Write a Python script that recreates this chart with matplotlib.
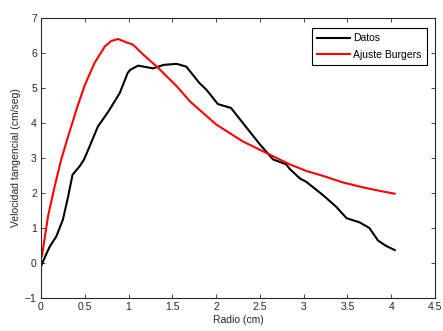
import matplotlib
matplotlib.use("Agg")
import matplotlib.pyplot as plt

# Datos medidos (radio en cm, velocidad en cm/seg)
r_datos = [0.00, 0.05, 0.10, 0.175, 0.25, 0.31, 0.36, 0.44, 0.49, 0.54, 0.65, 0.77,
           0.90, 0.99, 1.02, 1.11, 1.28, 1.40, 1.55, 1.66, 1.81, 1.89, 2.02, 2.17,
           2.35, 2.50, 2.65, 2.80, 2.84, 2.96, 3.03, 3.22, 3.37, 3.49, 3.64, 3.75,
           3.85, 3.94, 4.04]
v_datos = [-0.10, 0.20, 0.47, 0.76, 1.24, 1.90, 2.52, 2.76, 2.95, 3.24, 3.90, 4.33,
           4.86, 5.43, 5.52, 5.64, 5.56, 5.66, 5.69, 5.61, 5.14, 4.95, 4.54, 4.43,
           3.86, 3.39, 2.96, 2.82, 2.69, 2.41, 2.32, 1.94, 1.61, 1.28, 1.16, 1.00,
           0.64, 0.49, 0.37]

# Ajuste Burgers
r_ajuste = [0.01, 0.08, 0.156, 0.23, 0.31, 0.37, 0.42, 0.50, 0.61, 0.73, 0.80, 0.88,
            0.99, 1.05, 1.17, 1.34, 1.55, 1.70, 2.00, 2.30, 2.61, 2.84, 3.03, 3.22,
            3.45, 3.68, 3.87, 4.04]
v_ajuste = [0.19, 1.33, 2.19, 2.95, 3.62, 4.10, 4.50, 5.08, 5.71, 6.19, 6.34, 6.40,
            6.29, 6.24, 5.95, 5.57, 5.05, 4.62, 3.96, 3.48, 3.10, 2.82, 2.63, 2.49,
            2.30, 2.16, 2.06, 1.98]

plt.rcParams['font.family'] = ['Liberation Sans', 'DejaVu Sans']
plt.rcParams['font.size'] = 7.5

fig = plt.figure(figsize=(4.43, 3.31), dpi=100)
ax = fig.add_axes([41/443, 33/331, 394/443, 280/331])

ax.plot(r_datos, v_datos, color='black', lw=1.5, label='Datos')
ax.plot(r_ajuste, v_ajuste, color='red', lw=1.5, label='Ajuste Burgers')

ax.set_xlim(0, 4.5)
ax.set_ylim(-1, 7)
ax.set_xticks([0, 0.5, 1, 1.5, 2, 2.5, 3, 3.5, 4, 4.5])
ax.set_xticklabels(['0', '0.5', '1', '1.5', '2', '2.5', '3', '3.5', '4', '4.5'])
ax.set_yticks(range(-1, 8))
ax.tick_params(direction='in', top=True, right=True, length=3, width=0.6,
               colors='#262626', labelsize=7.5, pad=3)
for s in ax.spines.values():
    s.set_linewidth(0.8)
    s.set_color('#262626')

ax.set_xlabel('Radio (cm)', labelpad=2, color='#262626')
ax.set_ylabel('Velocidad tangencial (cm/seg)', labelpad=3, color='#262626')

leg = ax.legend(loc='upper right', bbox_to_anchor=(432/443, 313/331 - 5/331),
                bbox_transform=fig.transFigure, fancybox=False, framealpha=1,
                edgecolor='black', handlelength=3.2, borderpad=0.5,
                labelspacing=0.6, handletextpad=0.3, fontsize=7.5)
leg.get_frame().set_linewidth(0.8)

fig.savefig('out.png', dpi=100)
